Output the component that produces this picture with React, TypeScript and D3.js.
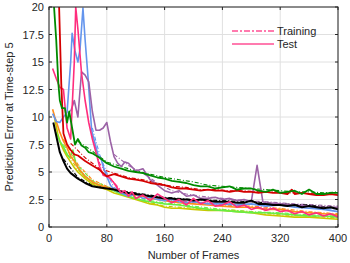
import * as d3 from "d3";

// frame numbers and error values
const blackTest: [number, number][] = [[6, 9.5], [10, 8.3], [15, 6.8], [20, 6.0], [25, 5.3], [30, 4.9], [40, 4.4], [50, 4.0], [60, 3.7], [70, 3.6], [80, 3.5], [90, 3.4], [100, 3.2], [110, 3.1], [120, 3.0], [130, 2.9], [140, 2.8], [150, 2.7], [160, 2.6], [170, 2.6], [180, 2.5], [190, 2.5], [200, 2.4], [210, 2.5], [220, 2.4], [230, 2.3], [240, 2.3], [250, 2.3], [260, 2.2], [270, 2.2], [280, 2.4], [290, 2.1], [300, 2.1], [310, 2.0], [320, 2.0], [330, 1.9], [340, 2.0], [350, 1.8], [360, 1.9], [370, 1.8], [380, 1.7], [390, 1.8], [400, 1.6]];
const greenTest: [number, number][] = [[7, 20], [10, 17], [13, 13], [15, 11.5], [18, 10.8], [22, 10.8], [25, 9.5], [28, 10.5], [32, 9], [36, 7.5], [40, 8.0], [45, 7.4], [50, 7.2], [55, 6.8], [60, 6.7], [70, 6.3], [80, 5.8], [90, 5.5], [100, 5.3], [110, 5.1], [120, 5.0], [130, 4.9], [140, 4.7], [150, 4.5], [160, 4.4], [170, 4.2], [180, 4.1], [190, 4.0], [200, 3.8], [210, 3.7], [220, 3.7], [230, 3.5], [240, 3.6], [250, 3.7], [260, 3.4], [270, 3.5], [280, 3.5], [290, 3.3], [300, 3.2], [310, 3.4], [320, 3.1], [330, 3.2], [340, 3.3], [350, 3.0], [360, 3.4], [370, 3.0], [380, 3.0], [390, 3.1], [400, 3.1]];
const redTest: [number, number][] = [[14, 20], [17, 13], [20, 8.5], [25, 7.5], [30, 7.0], [35, 6.6], [40, 6.5], [50, 6.0], [60, 5.6], [70, 5.2], [80, 4.6], [90, 4.8], [100, 4.6], [110, 4.4], [120, 4.3], [130, 4.2], [140, 4.0], [150, 3.9], [160, 3.8], [170, 3.6], [180, 3.5], [190, 3.5], [200, 3.4], [210, 3.3], [220, 3.4], [230, 3.3], [240, 3.3], [250, 3.2], [260, 3.3], [270, 3.2], [280, 3.2], [290, 3.1], [300, 3.2], [310, 3.1], [320, 3.1], [330, 3.0], [336, 3.4], [340, 3.0], [350, 3.1], [360, 3.0], [370, 2.9], [380, 2.9], [390, 3.0], [400, 2.9]];
const pinkTest: [number, number][] = [[5, 14.4], [10, 13.5], [15, 12.7], [20, 12.5], [25, 9], [30, 8], [35, 15], [37, 20], [40, 18], [45, 14], [50, 11.5], [55, 9.5], [60, 8], [65, 6.8], [70, 5.5], [75, 4.7], [80, 4.6], [85, 4.4], [90, 4.0], [95, 3.5], [100, 3.1], [105, 3.3], [110, 2.8], [115, 3.2], [120, 2.6], [130, 2.9], [140, 2.4], [150, 3.0], [160, 2.6], [170, 2.2], [180, 2.5], [190, 2.0], [200, 2.6], [210, 2.1], [220, 2.4], [230, 1.9], [240, 2.0], [250, 2.3], [260, 1.8], [270, 2.0], [280, 1.6], [290, 1.8], [300, 1.5], [310, 1.7], [320, 1.4], [330, 1.5], [340, 1.2], [350, 1.4], [360, 1.1], [370, 1.3], [380, 1.0], [390, 1.2], [400, 0.9]];
const blueTest: [number, number][] = [[5, 10.3], [10, 9.6], [15, 9.5], [20, 10.0], [25, 10.4], [30, 15], [32, 17.6], [36, 16], [40, 15], [43, 16.2], [47, 19.9], [50, 17], [54, 13.6], [59, 8.8], [64, 7.5], [68, 6.5], [72, 6.2], [76, 5.3], [80, 4.6], [85, 3.8], [90, 3.4], [100, 3.1], [110, 2.8], [120, 3.0], [130, 2.6], [140, 2.7], [150, 2.5], [160, 2.4], [170, 2.5], [180, 2.3], [190, 2.2], [200, 2.3], [220, 2.1], [240, 2.1], [260, 2.0], [280, 2.1], [300, 1.9], [320, 2.0], [340, 1.8], [360, 1.7], [380, 1.6], [400, 1.4]];
const purpleTest: [number, number][] = [[30, 10.5], [35, 11.5], [40, 10], [45, 14.1], [50, 13.8], [55, 13.2], [60, 10.5], [65, 8.8], [70, 8.8], [75, 9.0], [80, 9.5], [85, 7.8], [90, 6.4], [95, 5.8], [100, 5.5], [105, 5.9], [110, 5.8], [120, 5.1], [130, 5.3], [140, 4.3], [150, 3.8], [160, 3.3], [170, 3.1], [180, 3.3], [190, 2.8], [200, 2.9], [210, 2.6], [220, 2.6], [230, 2.7], [240, 2.5], [250, 2.6], [260, 2.4], [270, 2.5], [280, 2.3], [288, 5.6], [296, 2.3], [300, 2.2], [320, 2.1], [340, 2.0], [360, 1.9], [380, 1.8], [400, 1.8]];
const orangeTest: [number, number][] = [[5, 10.7], [8, 10.0], [12, 9.2], [15, 8.6], [20, 7.8], [25, 7.2], [30, 6.4], [35, 6.0], [40, 5.4], [45, 5.0], [50, 4.6], [60, 4.1], [70, 3.8], [80, 3.6], [90, 3.4], [100, 3.2], [110, 3.0], [120, 2.9], [130, 2.8], [140, 2.6], [150, 2.5], [160, 2.4], [180, 2.2], [200, 2.1], [220, 2.0], [240, 1.9], [260, 1.8], [280, 1.8], [300, 1.6], [320, 1.6], [340, 1.4], [360, 1.3], [380, 1.2], [400, 1.1]];
const limeTest: [number, number][] = [[10, 8.6], [15, 7.8], [20, 7.3], [25, 6.6], [29, 6.3], [33, 7.0], [37, 5.8], [42, 5.2], [50, 4.6], [60, 4.1], [70, 3.8], [80, 3.6], [90, 3.3], [100, 3.0], [110, 2.8], [120, 2.6], [130, 2.4], [140, 2.3], [150, 2.2], [160, 2.1], [180, 2.0], [200, 1.8], [220, 1.6], [240, 1.5], [260, 1.4], [280, 1.3], [300, 1.3], [320, 1.2], [340, 1.1], [360, 1.0], [380, 1.0], [400, 0.9]];
const yellowTest: [number, number][] = [[8, 9.8], [12, 8.5], [16, 7.6], [20, 7.0], [25, 6.4], [30, 5.9], [35, 5.4], [40, 5.0], [50, 4.4], [60, 3.9], [70, 3.6], [80, 3.4], [90, 3.1], [100, 2.9], [110, 2.7], [120, 2.5], [130, 2.3], [140, 2.1], [150, 2.0], [160, 1.8], [170, 1.7], [180, 1.7], [200, 1.6], [220, 1.5], [240, 1.5], [260, 1.4], [280, 1.3], [300, 1.1], [320, 1.0], [340, 0.9], [360, 0.9], [380, 0.8], [400, 0.7]];

// training curves sit on top of the test curves, slightly offset
const greenTrain: [number, number][] = [[40, 7.8], [60, 6.9], [80, 5.9], [100, 5.5], [120, 5.1], [140, 4.8], [160, 4.5], [180, 4.3], [200, 4.1], [220, 3.8], [240, 3.7], [260, 3.6], [280, 3.5], [300, 3.4], [320, 3.3], [340, 3.2], [360, 3.2], [380, 3.1], [400, 3.2]];
const redTrain: [number, number][] = [[30, 7.6], [50, 6.3], [70, 5.3], [90, 4.9], [110, 4.5], [130, 4.3], [150, 4.0], [170, 3.7], [190, 3.6], [210, 3.4], [230, 3.4], [250, 3.3], [270, 3.3], [290, 3.2], [310, 3.2], [330, 3.1], [350, 3.1], [370, 3.0], [400, 3.0]];
const blueTrain: [number, number][] = [[60, 9.0], [70, 6.6], [80, 4.9], [90, 3.6], [110, 3.0], [130, 2.8], [150, 2.6], [170, 2.5], [190, 2.3], [220, 2.2], [260, 2.1], [300, 2.0], [340, 1.9], [380, 1.7], [400, 1.6]];
const pinkTrain: [number, number][] = [[60, 8.3], [70, 5.8], [80, 4.8], [100, 3.3], [120, 2.9], [140, 2.7], [160, 2.6], [180, 2.4], [200, 2.3], [220, 2.2], [240, 2.1], [260, 2.0], [280, 1.8], [300, 1.7], [320, 1.6], [340, 1.4], [360, 1.3], [380, 1.2], [400, 1.1]];
const purpleTrain: [number, number][] = [[90, 6.6], [110, 5.6], [130, 4.9], [150, 4.0], [170, 3.3], [190, 3.0], [210, 2.8], [240, 2.6], [270, 2.4], [300, 2.3], [340, 2.1], [400, 1.9]];
const orangeTrain: [number, number][] = [[20, 8.0], [40, 5.7], [60, 4.3], [80, 3.7], [100, 3.3], [120, 3.0], [140, 2.7], [160, 2.5], [200, 2.2], [240, 2.0], [280, 1.9], [320, 1.7], [360, 1.4], [400, 1.2]];
const limeTrain: [number, number][] = [[20, 7.5], [40, 5.6], [60, 4.2], [80, 3.7], [100, 3.1], [120, 2.7], [140, 2.4], [160, 2.2], [200, 1.9], [240, 1.6], [280, 1.4], [320, 1.3], [360, 1.1], [400, 1.0]];
const yellowTrain: [number, number][] = [[20, 7.2], [40, 5.2], [60, 4.0], [80, 3.5], [100, 3.0], [120, 2.6], [140, 2.2], [160, 1.9], [200, 1.7], [240, 1.6], [280, 1.4], [320, 1.1], [360, 1.0], [400, 0.8]];
const blackTrain: [number, number][] = [[20, 6.2], [40, 4.5], [60, 3.8], [80, 3.6], [100, 3.3], [120, 3.1], [140, 2.9], [160, 2.7], [200, 2.5], [240, 2.4], [280, 2.3], [320, 2.1], [360, 2.0], [400, 1.7]];

const series = [
  { color: "#c8c800", train: yellowTrain, test: yellowTest, lw: 1.6 },
  { color: "#66ee44", train: limeTrain, test: limeTest, lw: 1.6 },
  { color: "#ff8c1a", train: orangeTrain, test: orangeTest, lw: 1.6 },
  { color: "#6495ed", train: blueTrain, test: blueTest, lw: 1.6 },
  { color: "#9b62a6", train: purpleTrain, test: purpleTest, lw: 1.6 },
  { color: "#000000", train: blackTrain, test: blackTest, lw: 2 },
  { color: "#ff2d7d", train: pinkTrain, test: pinkTest, lw: 1.6 },
  { color: "#d40000", train: redTrain, test: redTest, lw: 1.8 },
  { color: "#008a00", train: greenTrain, test: greenTest, lw: 1.8 },
];

const xTicks = [0, 80, 160, 240, 320, 400];
const yTicks = [0, 2.5, 5, 7.5, 10, 12.5, 15, 17.5, 20];

export default function App() {
  const width = 350;
  const height = 263;
  const left = 49, right = 338, top = 7, bottom = 227;
  const x = d3.scaleLinear([0, 400], [left, right]);
  const y = d3.scaleLinear([0, 20], [bottom, top]);
  const line = d3.line<[number, number]>((d) => x(d[0]), (d) => y(d[1]));
  const axisColor = "#262626";
  const font = "'Liberation Sans', Arial, sans-serif";

  return (
    <svg width={width} height={height} style={{ position: "absolute", left: 0, top: 0 }} fontFamily={font}>
      <defs>
        <clipPath id="plot">
          <rect x={left} y={top} width={right - left} height={bottom - top} />
        </clipPath>
      </defs>
      <rect x={left} y={top} width={right - left} height={bottom - top} fill="white" />
      {/* grid */}
      <g stroke="#e0e0e0" strokeWidth={1}>
        {xTicks.map((t) => (
          <line key={"gx" + t} x1={x(t)} x2={x(t)} y1={top} y2={bottom} />
        ))}
        {yTicks.map((t) => (
          <line key={"gy" + t} x1={left} x2={right} y1={y(t)} y2={y(t)} />
        ))}
      </g>
      {/* curves */}
      <g clipPath="url(#plot)" fill="none" strokeLinejoin="round">
        {series.map((s, i) => (
          <path key={"tr" + i} d={line(s.train) || undefined} stroke={s.color} strokeWidth={1.1} strokeDasharray="4,2,1,2" />
        ))}
        {series.map((s, i) => (
          <path key={"te" + i} d={line(s.test) || undefined} stroke={s.color} strokeWidth={s.lw} />
        ))}
      </g>
      {/* box and ticks */}
      <rect x={left} y={top} width={right - left} height={bottom - top} fill="none" stroke={axisColor} strokeWidth={1} />
      <g stroke={axisColor} strokeWidth={1}>
        {xTicks.map((t) => (
          <g key={"tx" + t}>
            <line x1={x(t)} x2={x(t)} y1={bottom} y2={bottom - 3} />
            <line x1={x(t)} x2={x(t)} y1={top} y2={top + 3} />
          </g>
        ))}
        {yTicks.map((t) => (
          <g key={"ty" + t}>
            <line x1={left} x2={left + 3} y1={y(t)} y2={y(t)} />
            <line x1={right} x2={right - 3} y1={y(t)} y2={y(t)} />
          </g>
        ))}
      </g>
      <g fontSize={11} fill={axisColor}>
        {xTicks.map((t) => (
          <text key={"lx" + t} x={x(t)} y={bottom + 15} textAnchor="middle">{t}</text>
        ))}
        {yTicks.map((t) => (
          <text key={"ly" + t} x={left - 5} y={y(t) + 4} textAnchor="end">{t}</text>
        ))}
      </g>
      <text x={(left + right) / 2} y={259} textAnchor="middle" fontSize={11} fill={axisColor}>Number of Frames</text>
      <text transform={`translate(13,${(top + bottom) / 2}) rotate(-90)`} textAnchor="middle" fontSize={11} fill={axisColor}>
        Prediction Error at Time-step 5
      </text>
      {/* legend */}
      <g fontSize={11} fill={axisColor}>
        <line x1={232} x2={274} y1={31} y2={31} stroke="#ff4f94" strokeWidth={1.6} strokeDasharray="6,2,2,2" />
        <text x={277} y={35}>Training</text>
        <line x1={232} x2={274} y1={44} y2={44} stroke="#ff4f94" strokeWidth={1.6} />
        <text x={277} y={48}>Test</text>
      </g>
    </svg>
  );
}
